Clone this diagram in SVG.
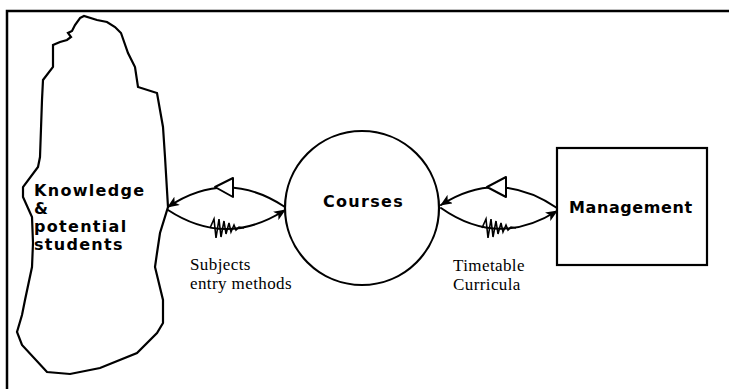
<svg xmlns="http://www.w3.org/2000/svg" width="729" height="389" viewBox="0 0 729 389">
<style>
.ln{fill:none;stroke:#000;stroke-width:2;stroke-linejoin:round;stroke-linecap:round}
.node{fill:#fff;stroke:#000;stroke-width:2.2}
.nt{font-family:"DejaVu Sans",sans-serif;font-weight:bold;font-size:16px;letter-spacing:1.3px;fill:#000}
.lb{font-family:"Liberation Serif",serif;font-size:17px;letter-spacing:0.4px;fill:#000}
.tri{fill:#fff;stroke:#000;stroke-width:2;stroke-linejoin:round}
.hash{fill:none;stroke:#000;stroke-width:1.6;stroke-linejoin:miter}
</style>
<defs>
<marker id="ah" viewBox="0 0 12 10" refX="11" refY="5" markerWidth="12" markerHeight="10" markerUnits="userSpaceOnUse" orient="auto">
<path d="M0,0 L12,5 L0,10 L3,5 Z" fill="#000"/>
</marker>
</defs>
<rect width="729" height="389" fill="#fff"/>
<g id="frame">
<path d="M7,389 L7,11 L729,11" fill="none" stroke="#000" stroke-width="2.5"/>
</g>
<g id="knowledge">
<path class="node" d="M80,18 L84,16 L97,20 L107,22 L115,27 L121,33 L128,53 L135,67 L138,87 L157,93 L163,127 L165,157 L168,207 L160,233 L157,253 L155,267 L163,300 L163,323 L157,333 L137,353 L100,368 L70,374 L47,372 L22,345 L17,332 L22,315 L25,300 L32,267 L33,243 L32,217 L23,197 L23,187 L38,167 L40,157 L42,100 L43,80 L53,67 L53,45 L60,42 L67,40 L71,37 L68,33 L72,31 L75,25 Z"/>
<text class="nt" x="34" y="196">Knowledge</text>
<text class="nt" x="34" y="214">&amp;</text>
<text class="nt" x="34" y="232">potential</text>
<text class="nt" x="34" y="250">students</text>
</g>
<g id="courses">
<circle class="node" cx="362" cy="208" r="77"/>
<text class="nt" x="323" y="207">Courses</text>
</g>
<g id="management">
<rect class="node" x="557" y="148" width="150" height="117"/>
<text class="nt" x="569" y="213" style="letter-spacing:0.6px">Management</text>
</g>
<g id="connectors">
<path class="ln" d="M285,207 Q226,168 168,207" marker-end="url(#ah)"/>
<path class="ln" d="M168,210 Q226,248 285,210" marker-end="url(#ah)"/>
<polygon class="tri" points="215,187 233,178 233,197"/>
<path class="hash" d="M210,228 L214,219 L216,238 L219,219 L221,237 L224,221 L226,234 L229,223 L231,232 L234,225 L236,230 L239,227 L244,228"/>
<path class="ln" d="M557,208 Q498,168 441,205" marker-end="url(#ah)"/>
<path class="ln" d="M441,208 Q498,248 557,211" marker-end="url(#ah)"/>
<polygon class="tri" points="487,187 506,177 506,197"/>
<path class="hash" d="M482,228 L486,219 L488,238 L491,219 L493,237 L496,221 L498,234 L501,223 L503,232 L506,225 L508,230 L511,227 L516,228"/>
<text class="lb" x="190" y="270">Subjects</text>
<text class="lb" x="190" y="289">entry methods</text>
<text class="lb" x="453" y="271">Timetable</text>
<text class="lb" x="453" y="290">Curricula</text>
</g>
</svg>
